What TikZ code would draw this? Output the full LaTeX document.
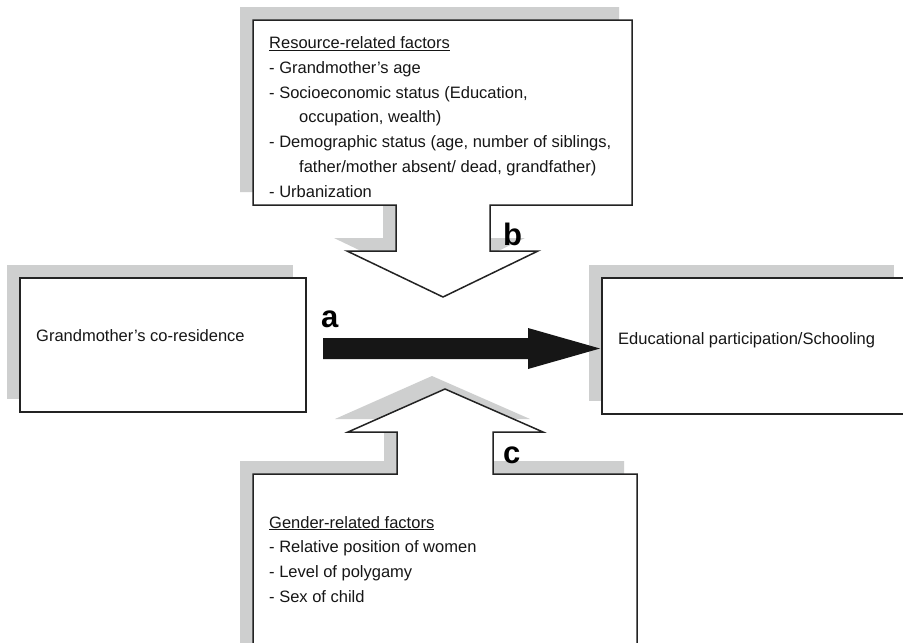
\documentclass[tikz,border=0pt]{standalone}
\usepackage{fontspec}
\setmainfont{Liberation Sans}
\definecolor{shadowgray}{RGB}{206,207,207}
\definecolor{linegray}{RGB}{35,35,35}
\definecolor{textgray}{RGB}{22,22,22}
\definecolor{arrowblack}{RGB}{22,22,22}
\tikzset{
  topshape/.style={insert path={(253,20) -- (632,20) -- (632,205) -- (490,205) -- (490,251) -- (538,251) -- (443,297) -- (347,251) -- (396,251) -- (396,205) -- (253,205) -- cycle}},
  bottomshape/.style={insert path={(253,660) -- (253,474) -- (397,474) -- (397,432) -- (348,432) -- (445,389) -- (543,432) -- (493,432) -- (493,474) -- (637,474) -- (637,660)}},
  shadowfill/.style={fill=shadowgray, shift={(-13,-13)}},
  frame/.style={fill=white, draw=linegray, line width=1.5pt, line join=miter},
  txt/.style={anchor=base west, inner sep=0pt, text=textgray, font=\fontsize{16.5}{20}\selectfont},
  lbl/.style={anchor=base west, inner sep=0pt, text=black, font=\fontsize{31}{36}\selectfont\bfseries}
}
\begin{document}
\begin{tikzpicture}[x=1pt,y=-1pt]
\useasboundingbox (0,0) rectangle (903,643);
\clip (0,0) rectangle (903,643);
\fill[white] (0,0) rectangle (903,643);
% shadows
\path[shadowfill, topshape];
\path[shadowfill, bottomshape];
\fill[shadowgray, shift={(-13,-13)}] (20,278) rectangle (306,412);
\fill[shadowgray, shift={(-13,-13)}] (602,278) rectangle (907,414);
% shapes
\path[frame, topshape];
\path[frame, bottomshape];
\path[frame] (20,278) rectangle (306,412);
\path[frame] (602,278) rectangle (907,414);
% main arrow
\coordinate (tail) at (323,348.5);
\coordinate (tip) at (600,348.5);
\fill[arrowblack] (323,338) -- (528,338) -- (528,328) -- (tip) -- (528,369) -- (528,359) -- (323,359) -- cycle;
% texts
\node[txt] (gm) at (36,341) {Grandmother’s co-residence};
\node[txt] (edu) at (618,344) {Educational participation/Schooling};
\node[txt] (r0) at (269,48.5) {\underline{Resource-related factors}};
\node[txt] (r1) at (269,73.3) {- Grandmother’s age};
\node[txt] (r2) at (269,98.1) {- Socioeconomic status (Education,};
\node[txt] (r3) at (299,122.9) {occupation, wealth)};
\node[txt] (r4) at (269,147.7) {- Demographic status (age, number of siblings,};
\node[txt] (r5) at (299,172.5) {father/mother absent/ dead, grandfather)};
\node[txt] (r6) at (269,197.3) {- Urbanization};
\node[txt] (g0) at (269,528) {\underline{Gender-related factors}};
\node[txt] (g1) at (269,552.7) {- Relative position of women};
\node[txt] (g2) at (269,577.4) {- Level of polygamy};
\node[txt] (g3) at (269,602.1) {- Sex of child};
\node[lbl] (la) at (321,327) {a};
\node[lbl] (lb) at (503,245) {b};
\node[lbl] (lc) at (503,463) {c};
\end{tikzpicture}
\end{document}
